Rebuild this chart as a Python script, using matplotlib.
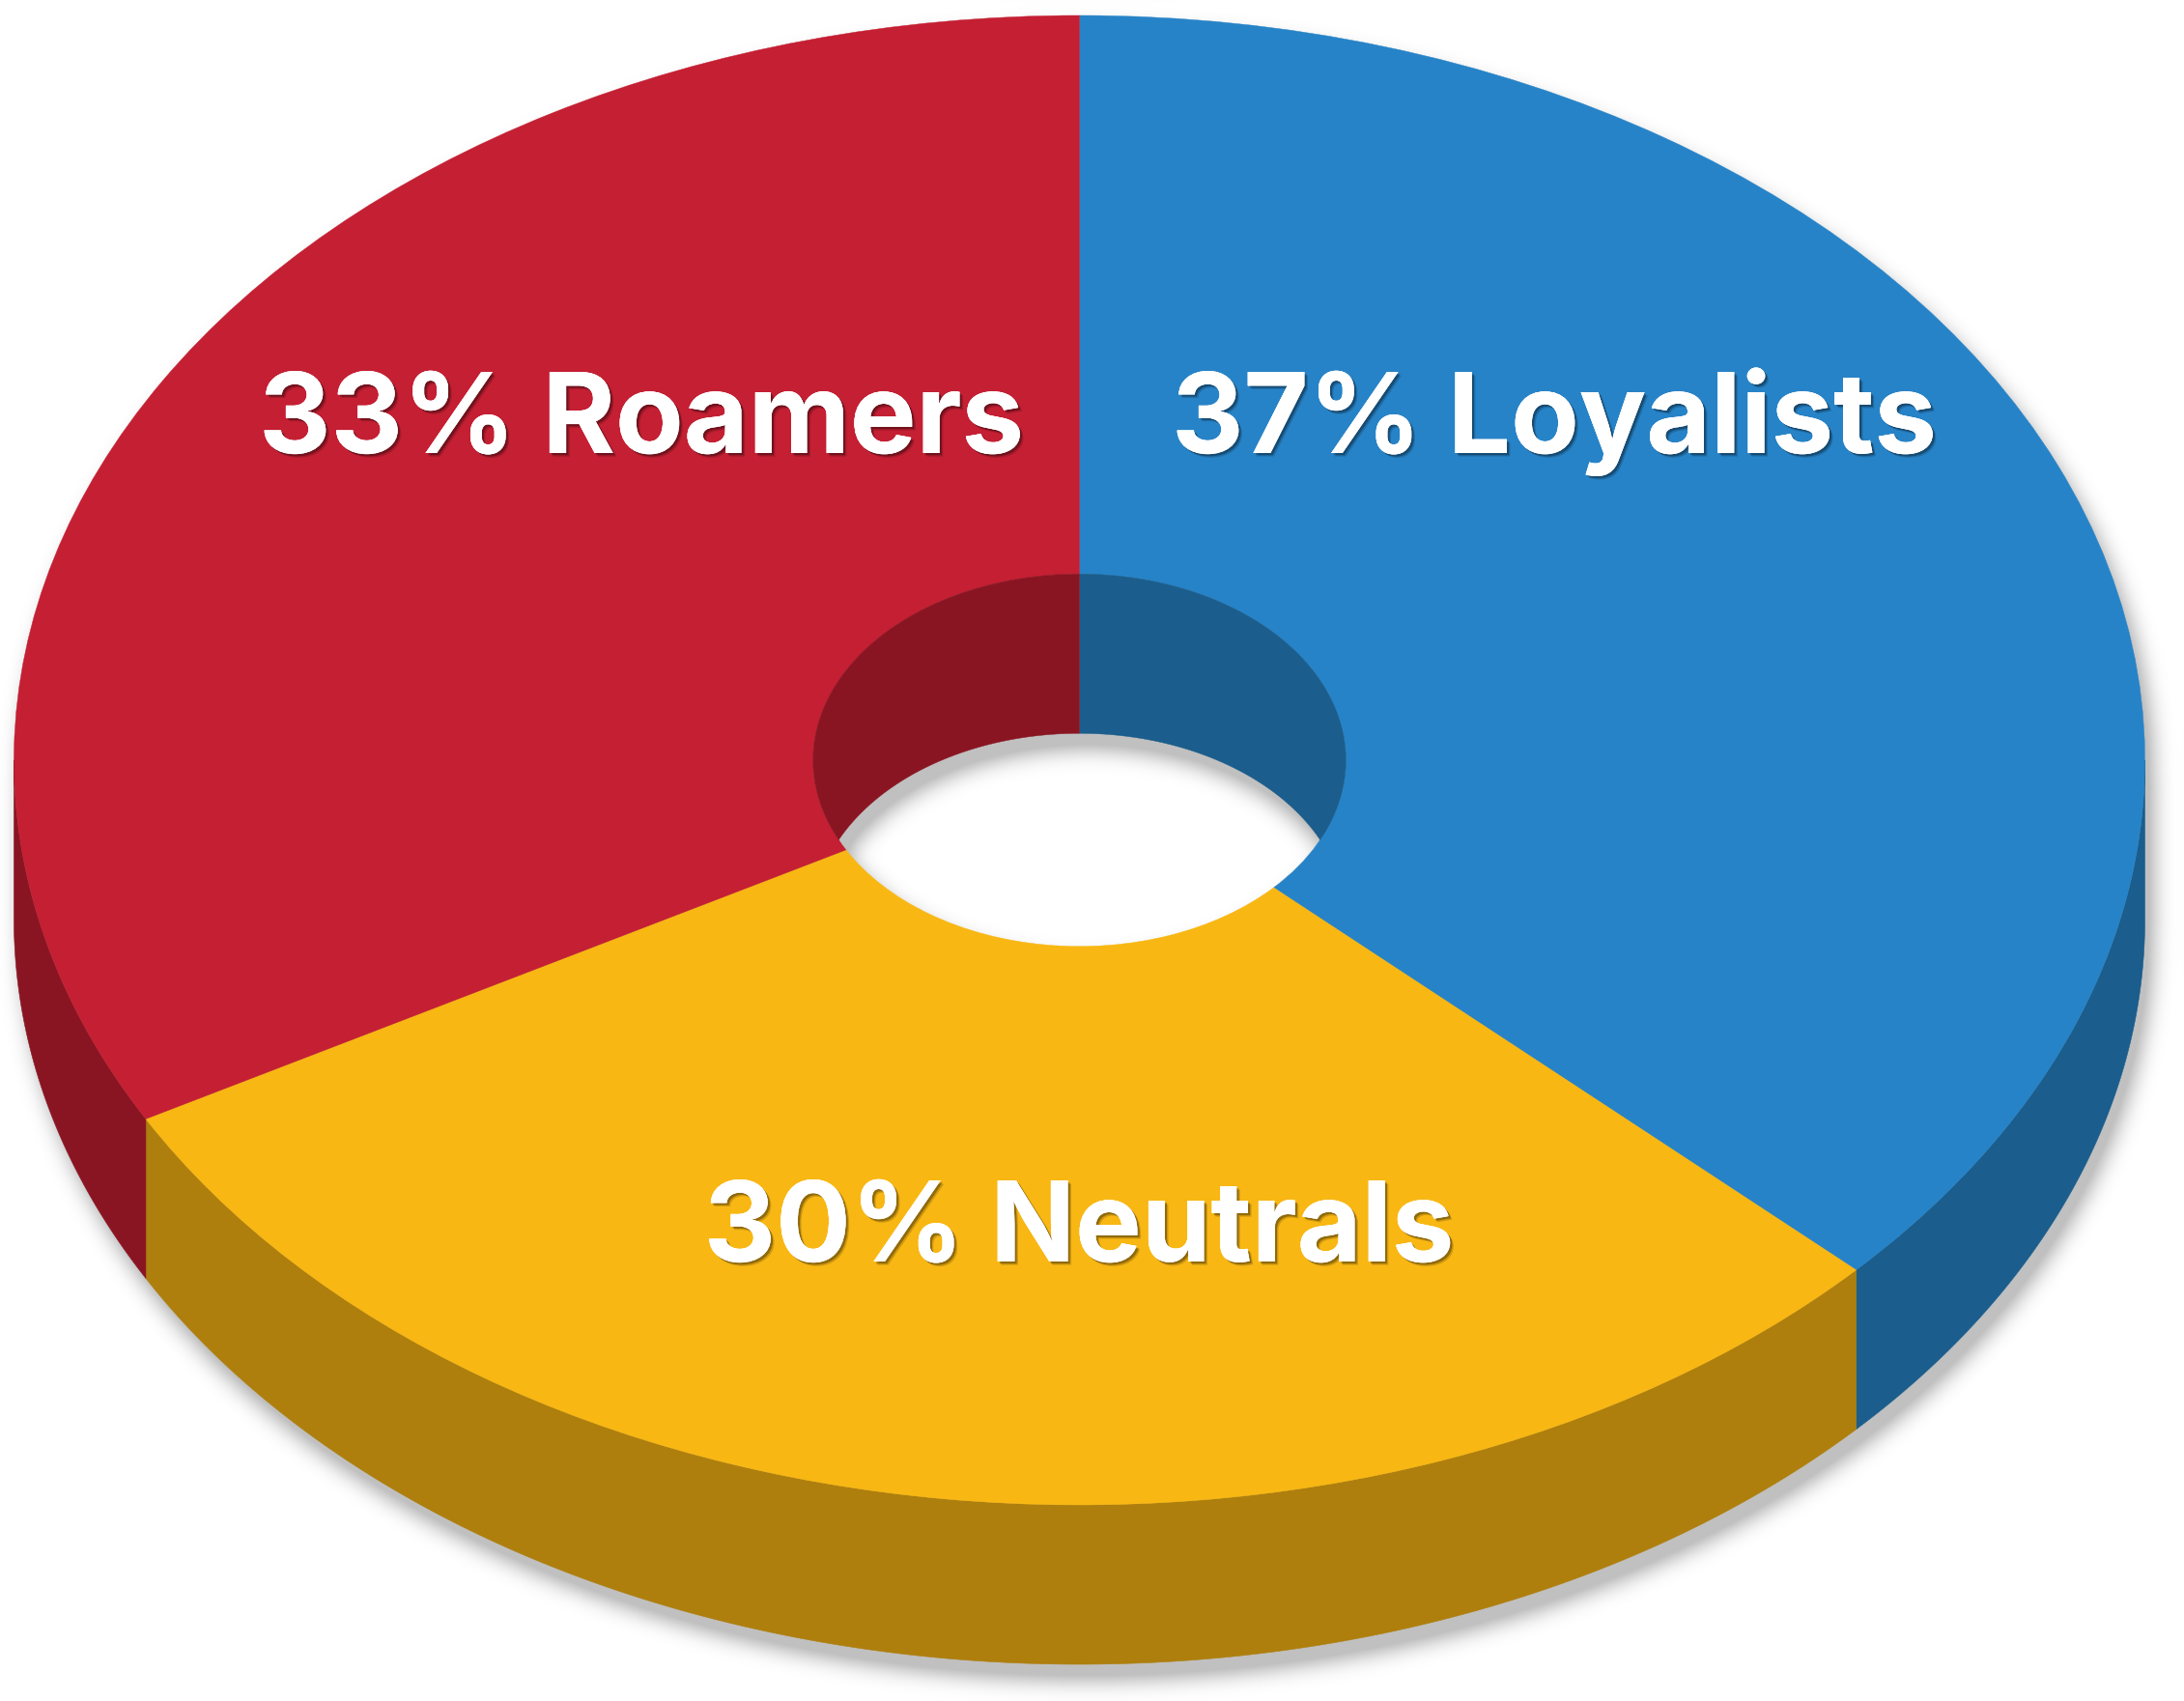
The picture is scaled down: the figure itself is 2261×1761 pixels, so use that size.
import numpy as np
import matplotlib
matplotlib.use("Agg")
import matplotlib.pyplot as plt
import matplotlib.patheffects as pe

# Data
segments = ["Loyalists", "Neutrals", "Roamers"]
shares = [37, 30, 33]
top_colors = ["#2783C7", "#F8B713", "#C41F33"]
side_colors = ["#1B5D8C", "#AE7F0D", "#8A1522"]

W, H = 2261, 1761
CX, CY, RX, RY = 1117.5, 787.0, 1103.0, 771.0
HOLE = 0.25
DEPTH = 165.0 / RY          # in unit-circle y units

fig = plt.figure(figsize=(W / 100, H / 100), dpi=100, facecolor="white")
ax = fig.add_axes([0, 0, 1, 1])
xlim = (-CX / RX, (W - CX) / RX)
ylim = ((CY - H) / RY, CY / RY)

# Soft shadow from the solid's silhouette
yy, xx = np.mgrid[0:H, 0:W]
u = (xx + 0.5 - CX) / RX
v = (CY - yy - 0.5) / RY
outer_top = u**2 + v**2 <= 1
outer_low = u**2 + (v + DEPTH)**2 <= 1
band = (np.abs(u) <= 1) & (v <= 0) & (v >= -DEPTH)
hole_open = (u**2 + v**2 <= HOLE**2) & (u**2 + (v + DEPTH)**2 <= HOLE**2)
solid = (outer_top | outer_low | band) & ~hole_open
SDX, SDY, SIGMA = 8, 16, 11.0
shifted = np.roll(np.roll(solid.astype(float), SDY, axis=0), SDX, axis=1)
fy = np.fft.fftfreq(H)[:, None]
fx = np.fft.rfftfreq(W)[None, :]
blur = np.exp(-2 * (np.pi * SIGMA)**2 * (fx**2 + fy**2))
soft = np.clip(np.fft.irfft2(np.fft.rfft2(shifted) * blur, s=(H, W)), 0, 1)
rgba = np.zeros((H, W, 4))
rgba[..., 3] = 0.25 * np.clip(soft * 1.5, 0, 1)
ax.imshow(rgba, extent=(xlim[0], xlim[1], ylim[0], ylim[1]), origin="upper",
          aspect="auto", zorder=0, interpolation="nearest")


def pos(theta):
    """Clockwise angle from top (deg) to unit-circle coordinates."""
    t = np.radians(theta)
    return np.sin(t), np.cos(t)


edges = np.concatenate([[0], np.cumsum(shares)]) * 360.0 / sum(shares)

# Outer wall (only the near half, 90..270 degrees, can be seen)
for a, b, col in zip(edges[:-1], edges[1:], side_colors):
    lo, hi = max(a, 90), min(b, 270)
    if hi <= lo:
        continue
    th = np.linspace(lo, hi, 300)
    x, y = pos(th)
    ax.fill(np.r_[x, x[::-1]], np.r_[y, y[::-1] - DEPTH], fc=col, ec=col, lw=0.4, zorder=2)

# Top surface
wedges, _ = ax.pie(shares, colors=top_colors, startangle=90, counterclock=False,
                   radius=1, wedgeprops=dict(width=1 - HOLE, linewidth=0.3, edgecolor="none"))
for w_, col in zip(wedges, top_colors):
    w_.set_zorder(3)
    w_.set_edgecolor(col)

# Inner wall of the hole (far side, seen through the opening)
s = (DEPTH / 2) / HOLE
tc = 90 + np.degrees(np.arcsin(s))   # where the rim meets the lowered rim
ranges = (((0, tc), (0, 180 - tc)), ((360 - tc, 360), (180 + tc, 360)))
for a, b, col in zip(edges[:-1], edges[1:], side_colors):
    for (r0, r1), (l0, l1) in ranges:
        lo, hi = max(a, r0), min(b, r1)
        lo2, hi2 = max(a, l0), min(b, l1)
        if hi <= lo or hi2 <= lo2:
            continue
        x, y = pos(np.linspace(lo, hi, 200))
        x2, y2 = pos(np.linspace(lo2, hi2, 200))
        ax.fill(np.r_[x * HOLE, x2[::-1] * HOLE],
                np.r_[y * HOLE, y2[::-1] * HOLE - DEPTH],
                fc=col, ec=col, lw=0.3, zorder=4)

ax.set_aspect("auto")
ax.set_xlim(*xlim)
ax.set_ylim(*ylim)
ax.axis("off")

# Labels
labels = [f"{p}% {n}" for p, n in zip(shares, segments)]
label_px = [(1609, 469), (1117, 1306), (664, 469)]
shadow = [pe.withSimplePatchShadow(offset=(2.6, -2.6), shadow_rgbFace="black", alpha=0.16),
          pe.withSimplePatchShadow(offset=(1.6, -1.6), shadow_rgbFace="black", alpha=0.30),
          pe.Normal()]
for lab, (px, py) in zip(labels, label_px):
    ax.text((px - CX) / RX, (CY - py) / RY, lab, color="white", ha="center", va="baseline",
            fontsize=83, fontweight="bold", family=["Inter", "Liberation Sans"], zorder=6,
            path_effects=shadow)

fig.savefig("out.png", dpi=100, facecolor="white")
